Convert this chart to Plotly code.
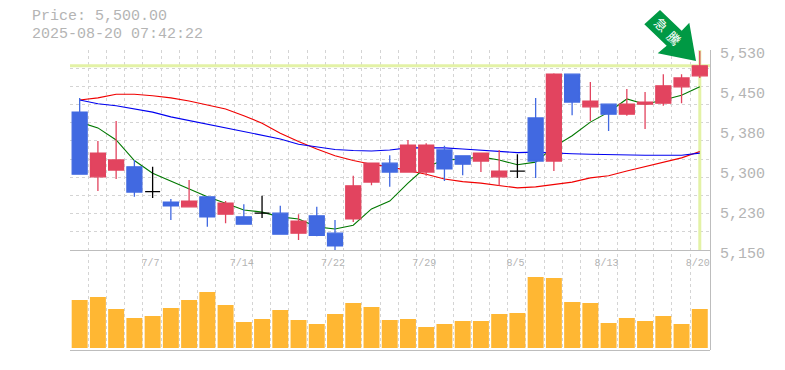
import plotly.graph_objects as go

dates = ["7/1","7/2","7/3","7/4","7/7","7/8","7/9","7/10","7/11","7/14","7/15","7/16","7/17","7/18","7/22","7/23","7/24","7/25","7/28","7/29","7/30","7/31","8/1","8/4","8/5","8/6","8/7","8/8","8/12","8/13","8/14","8/15","8/18","8/19","8/20"]
opens  = [5412,5289,5302,5308,5261,5241,5232,5251,5218,5213,5220,5220,5182,5215,5182,5209,5279,5315,5298,5298,5340,5329,5319,5289,5300,5401,5319,5484,5422,5427,5408,5427,5429,5460,5481]
closes = [5294,5334,5321,5260,5261,5234,5243,5213,5239,5199,5220,5180,5205,5178,5158,5272,5315,5298,5349,5349,5304,5313,5334,5300,5300,5319,5484,5431,5433,5408,5427,5431,5462,5477,5500]
highs  = [5439,5357,5395,5321,5308,5247,5283,5251,5243,5237,5253,5234,5218,5232,5207,5291,5315,5330,5359,5353,5348,5329,5334,5340,5332,5439,5486,5484,5469,5427,5456,5450,5484,5484,5528]
lows   = [5294,5262,5285,5251,5249,5207,5232,5194,5201,5199,5211,5180,5169,5176,5149,5203,5273,5270,5298,5291,5281,5292,5298,5272,5287,5287,5300,5406,5395,5376,5405,5380,5424,5429,5477]
ma_short = [5393,5382,5359,5320,5296,5281,5266,5251,5239,5226,5222,5213,5209,5194,5190,5197,5228,5243,5277,5308,5321,5323,5327,5321,5312,5317,5346,5367,5393,5412,5437,5427,5435,5444,5460]
ma_mid   = [5435,5428,5424,5418,5412,5403,5396,5388,5382,5374,5367,5361,5351,5346,5341,5339,5338,5340,5344,5344,5344,5342,5340,5338,5335,5336,5334,5333,5332,5331,5330,5330,5330,5330,5334]
ma_long  = [5435,5439,5446,5446,5443,5439,5433,5426,5418,5405,5391,5372,5356,5342,5329,5320,5313,5308,5301,5294,5285,5280,5277,5272,5268,5270,5275,5279,5287,5291,5300,5308,5317,5325,5337]
volumes  = [48000,51000,39000,30000,32000,40000,48000,56000,43000,26000,29000,38000,28000,24000,34000,45000,41000,28000,29000,21000,24000,27000,27000,34000,35000,71000,70000,46000,45000,25000,30000,27000,32000,24000,39000]
label_dates = ["7/7","7/14","7/22","7/29","8/5","8/13","8/20"]
price_ticks = [5530,5454,5378,5302,5226,5150]
price_labels = ["5,530","5,450","5,380","5,300","5,230","5,150"]
current_price = 5500
title_lines = ["Price: 5,500.00","2025-08-20 07:42:22"]
badge = "急騰"

GREY = "#bdbdbd"
TEXT = "#b4b4b4"
GRID = "#d4d4d4"
LIME = "#e3f2a6"
MONO = "Liberation Mono, DejaVu Sans Mono, monospace"
xr = [-0.53, 34.56]
idx = list(range(len(dates)))

def px(x):
    return (x - 70) / 640

def py(y):
    return 1 - (y - 50) / 300

fig = go.Figure()
fig.add_trace(go.Scatter(x=[0], y=[0], xaxis="x", yaxis="y", mode="markers", marker=dict(opacity=0), showlegend=False, hoverinfo="skip"))
fig.add_trace(go.Scatter(x=xr, y=[current_price, current_price], xaxis="x2", yaxis="y2", mode="lines", line=dict(color=LIME, width=3), showlegend=False, hoverinfo="skip"))
fig.add_trace(go.Scatter(x=[idx[-1], idx[-1]], y=[5150, 5530], xaxis="x2", yaxis="y2", mode="lines", line=dict(color=LIME, width=3), showlegend=False, hoverinfo="skip"))
for vals, col in ((ma_long, "#f00000"), (ma_mid, "#0000f0"), (ma_short, "#007800")):
    fig.add_trace(go.Scatter(x=idx, y=vals, xaxis="x2", yaxis="y2", mode="lines", line=dict(color=col, width=1.1), showlegend=False))

def subset(test):
    keep = [i for i in idx if test(opens[i], closes[i])]
    return dict(x=keep, open=[opens[i] for i in keep], high=[highs[i] for i in keep], low=[lows[i] for i in keep], close=[closes[i] for i in keep])

RED = "#e2445f"
BLUE = "#4169e1"
for test, col in ((lambda o, c: c > o, RED), (lambda o, c: c < o, BLUE), (lambda o, c: c == o, "#000000")):
    side = dict(line=dict(color=col, width=1.3), fillcolor=col)
    fig.add_trace(go.Candlestick(**subset(test), xaxis="x2", yaxis="y4", increasing=side, decreasing=side, whiskerwidth=0, showlegend=False))

fig.add_trace(go.Bar(x=idx, y=volumes, xaxis="x3", yaxis="y3", marker=dict(color="#ffb733", line=dict(width=0)), width=0.875, showlegend=False))

tickpos = [dates.index(d) for d in label_dates]
grid_x = [xr[0] + k for k in range(35)]
grid_y = [5150 + k * 380 / 11 for k in range(12)]
fig.update_layout(
    template=None,
    width=785, height=370, margin=dict(l=70, r=75, t=50, b=20, autoexpand=False),
    paper_bgcolor="white", plot_bgcolor="rgba(0,0,0,0)", showlegend=False, hovermode=False,
    boxgap=0.18, boxgroupgap=0, dragmode=False,
    xaxis=dict(domain=[0, 1], range=xr, anchor="y", showgrid=False, zeroline=False, showticklabels=False, ticks="", tickmode="array", tickvals=[], automargin=False,
               minor=dict(tickmode="array", tickvals=grid_x, showgrid=True, gridcolor=GRID, griddash="3px,3px", gridwidth=1, ticks="")),
    yaxis=dict(domain=[0, 1], range=[0, 1], anchor="x", showgrid=False, zeroline=False, showticklabels=False, ticks="", side="right", showline=True, linecolor=GREY, linewidth=1.3, automargin=False),
    xaxis2=dict(domain=[0, 1], range=xr, anchor="y2", showgrid=False, zeroline=False, rangeslider=dict(visible=False), tickmode="array", tickvals=tickpos, ticktext=label_dates, automargin=False,
                ticks="", showline=True, linecolor=GREY, linewidth=1.3, tickfont=dict(family=MONO, size=10, color=TEXT), ticklabelstandoff=3, ticklabelshift=-2),
    yaxis2=dict(domain=[1 / 3, 1], range=[5150, 5530], anchor="x2", side="right", zeroline=False, showgrid=False, tickmode="array", tickvals=price_ticks, ticktext=price_labels, automargin=False,
                tickfont=dict(family=MONO, size=15, color=TEXT), ticks="", ticklabelstandoff=9, ticklabelshift=3,
                minor=dict(tickmode="array", tickvals=grid_y, showgrid=True, gridcolor=GRID, griddash="3px,3px", gridwidth=1, ticks="")),
    yaxis4=dict(overlaying="y2", range=[5150, 5530], anchor="x2", side="right", showgrid=False, zeroline=False, showticklabels=False, ticks="", automargin=False),
    xaxis3=dict(domain=[0, 1], range=xr, anchor="y3", showgrid=False, zeroline=False, showticklabels=False, ticks="", showline=True, linecolor=GREY, linewidth=1.3, automargin=False),
    yaxis3=dict(domain=[0, 1 / 3], range=[-2000, 98000], anchor="x3", showgrid=False, zeroline=False, showticklabels=False, ticks="", automargin=False),
    shapes=[dict(type="path", xref="paper", yref="paper", fillcolor="#009944", line=dict(width=0), layer="above",
                 path="M {} {} L {} {} L {} {} L {} {} L {} {} L {} {} L {} {} Z".format(
                     px(660), py(10), px(644.3), py(24.3), px(666.7), py(45.7), px(657.7), py(53.3),
                     px(696), py(61), px(689.3), py(22.7), px(681.7), py(30.7)))],
    annotations=[
        dict(text=title_lines[0], xref="paper", yref="paper", x=px(29.5), y=py(17), xanchor="left", yanchor="middle", showarrow=False, font=dict(family=MONO, size=15, color=TEXT)),
        dict(text=title_lines[1], xref="paper", yref="paper", x=px(29.5), y=py(34), xanchor="left", yanchor="middle", showarrow=False, font=dict(family=MONO, size=15, color=TEXT)),
        dict(text=badge[0], xref="paper", yref="paper", x=px(661.7), y=py(24.5), xanchor="center", yanchor="middle", textangle=45, showarrow=False, font=dict(family="Noto Sans CJK JP", size=13, color="white")),
        dict(text=badge[1], xref="paper", yref="paper", x=px(674), y=py(37.5), xanchor="center", yanchor="middle", textangle=45, showarrow=False, font=dict(family="Noto Sans CJK JP", size=13, color="white")),
    ],
)
fig.write_html("out.html", config=dict(displayModeBar=False), post_script="document.body.style.margin='0';")
